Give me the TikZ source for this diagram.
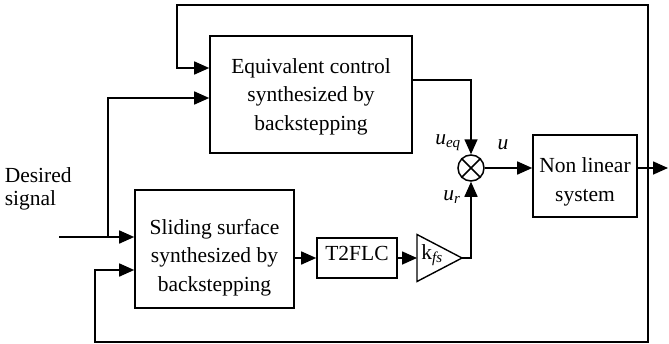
\documentclass[tikz,border=0pt]{standalone}
\usepackage{fontspec}
\setmainfont{Liberation Serif}
\usetikzlibrary{arrows.meta,calc}
\begin{document}
\begin{tikzpicture}[x=1pt,y=-1pt,
  line width=1.6pt,
  box/.style={draw,line width=1.6pt,inner sep=0pt},
  txt/.style={inner sep=0pt,align=center,font=\fontsize{21.5}{28.5}\selectfont},
  arr/.style={-{Triangle[length=15pt,width=13pt]}},
  lbl/.style={inner sep=0pt,font=\fontsize{21.5}{24}\selectfont}
]
\useasboundingbox (0,0) rectangle (669,343);

% blocks
\node[box,minimum width=202pt,minimum height=117pt] (eq) at (311,94.5) {};
\node[txt] (eqtxt) at (311,96.5) {Equivalent control\\synthesized by\\backstepping};
\node[box,minimum width=159pt,minimum height=118pt] (sl) at (214.5,249) {};
\node[txt] (sltxt) at (214.5,257.5) {Sliding surface\\synthesized by\\backstepping};
\node[box,minimum width=80pt,minimum height=40pt] (t2) at (357,258) {};
\node[txt] (t2txt) at (357,253) {T2FLC};
\node[box,minimum width=104pt,minimum height=82pt] (nl) at (585,176) {};
\node[txt] (nltxt) at (585,182) {Non linear\\system};

% multiplier
\node[draw,circle,minimum size=26pt,inner sep=0pt,line width=1.5pt] (m) at (471,168) {};
\draw[line width=1.5pt] (m.north west) -- (m.south east) (m.north east) -- (m.south west);

% gain triangle
\coordinate (kin) at (417,258);
\coordinate (kout) at (462,258);
\draw[line width=1.4pt,line join=miter] ($(kin)+(0,-23.5)$) -- (kout) -- ($(kin)+(0,23.5)$) -- cycle;
\node[lbl] (kfs) at (432,255) {k\textsubscript{\textit{fs}}};

% labels
\node[lbl] (ueq) at (448,143) {\textit{u}\textsubscript{\textit{eq}}};
\node[lbl] (ur) at (452,197) {\textit{u}\textsubscript{\textit{r}}};
\node[lbl] (u) at (503,145) {\textit{u}};
\node[lbl,align=left,anchor=west,font=\fontsize{21.5}{23}\selectfont] (dsig) at (4,189) {Desired\\signal};

% coordinates
\coordinate (out) at (648,168);
\coordinate (end) at (668,168);
\coordinate (tl) at (177,5);
\coordinate (fb1) at (177,68);
\coordinate (bl) at (95,342);
\coordinate (fb2) at (95,270);
\coordinate (ds) at (59,237);
\coordinate (dj) at (108,237);
\coordinate (d2) at (108,98);
\coordinate (eo) at (412,80);

% connectors
\draw[arr] (nl.east |- out) -- (end);
\draw[arr] (out) |- (tl) -- (fb1) -- (eq.west |- fb1);
\draw[arr] (out) |- (bl) -- (fb2) -- (sl.west |- fb2);
\draw[arr] (ds) -- (sl.west |- ds);
\draw[arr] (dj) -- (d2) -- (eq.west |- d2);
\draw[arr] (sl.east |- t2) -- (t2.west);
\draw[arr] (t2.east) -- (kin);
\draw[arr] (kout) -- (m.south |- kout) -- (m.south);
\draw[arr] (eq.east |- eo) -| (m.north);
\draw[arr] (m.east) -- (nl.west |- m.east);
\end{tikzpicture}
\end{document}
